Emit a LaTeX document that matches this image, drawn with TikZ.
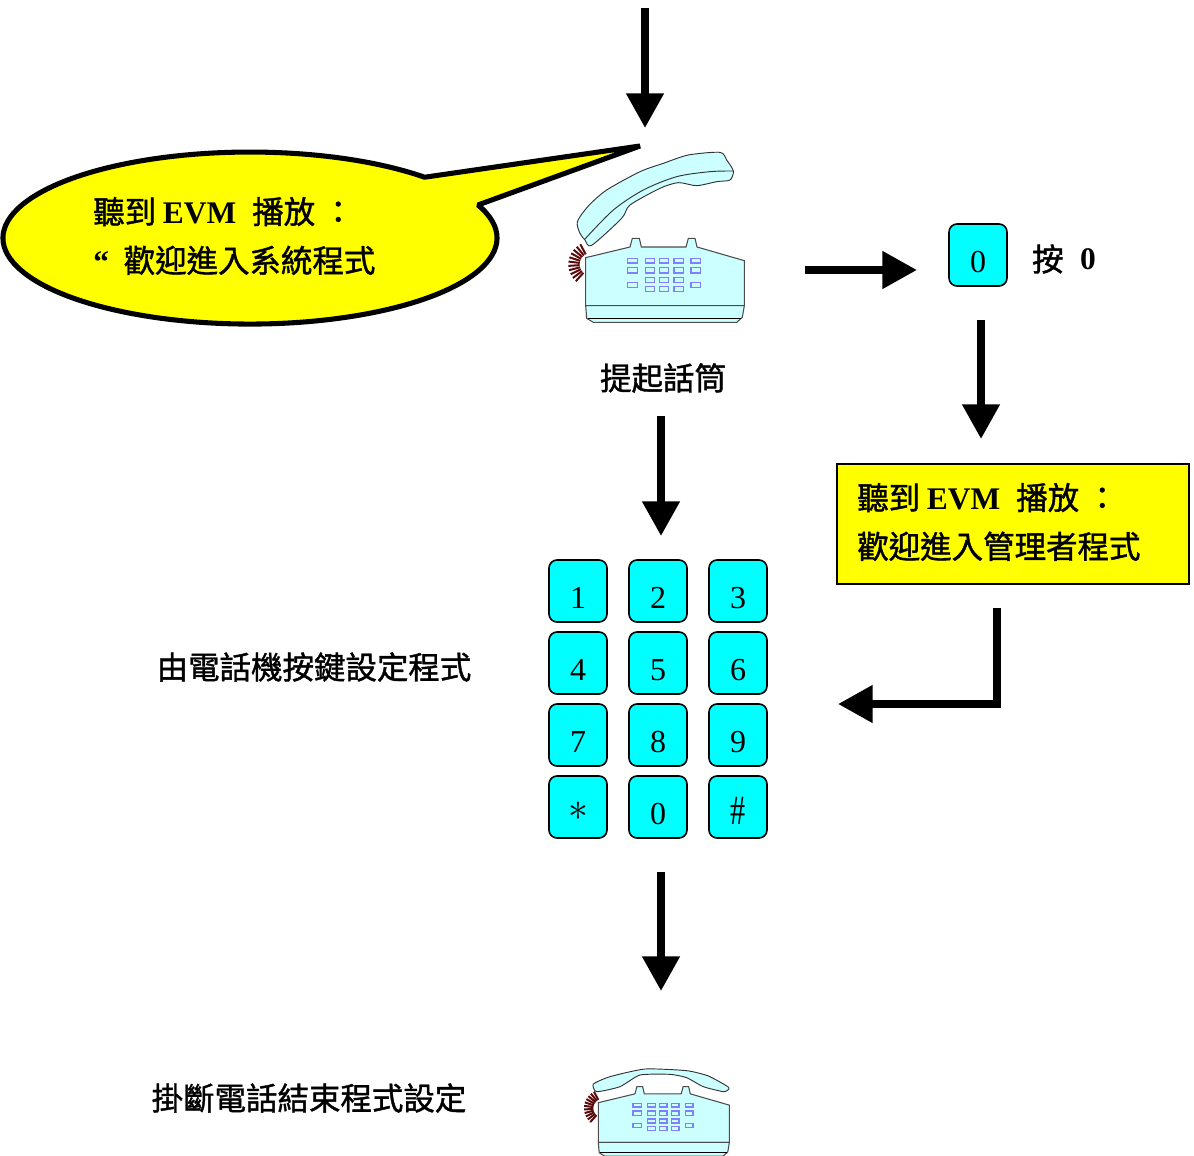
\documentclass[tikz,border=0pt]{standalone}
\usepackage{fontspec}
\setmainfont{Liberation Serif}
\newfontfamily\cjk[FakeBold=1.3]{Noto Sans CJK TC}
\usetikzlibrary{positioning,arrows.meta,shapes.geometric,calc}
\definecolor{keycyan}{RGB}{0,255,255}
\definecolor{phonecyan}{RGB}{204,255,255}
\definecolor{phonekey}{RGB}{128,128,255}
\definecolor{coilred}{RGB}{90,10,10}
\definecolor{notepaper}{RGB}{255,255,0}
\newcommand{\evmtext}{{\rmfamily\bfseries EVM}}
\newcommand{\heardtext}{聽到\hspace{5pt}\evmtext\hspace{12pt}播放\hspace{5.5pt}：}
\tikzset{
	phonebase/.pic={
		% coiled cord
		\foreach \a in {132,143,...,252}
			\draw[coilred, line width=1.5pt] ($(\a:34)+(16,20)$) -- ($(\a:68)+(16,20)$);
		% body
		\draw[fill=phonecyan, draw=black!70, line width=.8pt]
			(0,0) -- (133,-32) -- (140,-58) -- (161,-58) -- (167,-32) -- (301,-32) -- (308,-58) -- (328,-58) -- (334,-32) -- (476,9) -- (476,144) -- (0,144) -- cycle;
		\draw[fill=phonecyan, draw=black!70, line width=.8pt]
			(0,144) -- (3,182) -- (23,194) -- (453,194) -- (470,179) -- (476,144) -- cycle;
		\draw[black, line width=.7pt] (6,182) -- (466,182);
		% small keys
		\foreach \x/\w in {126/30,179/28,221/28,265/28,316/28} {
			\draw[phonekey, line width=.9pt] (\x,2) rectangle ++(\w,14);
			\draw[phonekey, line width=.9pt] (\x,30) rectangle ++(\w,16);
		}
		\foreach \x in {179,221,265} {
			\draw[phonekey, line width=.9pt] (\x,59) rectangle ++(28,15);
			\draw[phonekey, line width=.9pt] (\x,87) rectangle ++(28,15);
		}
		\draw[phonekey, line width=.9pt] (126,75) rectangle ++(30,15);
		\draw[phonekey, line width=.9pt] (316,75) rectangle ++(28,15);
	}
}

\begin{document}
\begin{tikzpicture}[
	x=.75pt, y=-.75pt,
	keybox/.style={rectangle, draw, line width=1.2pt, rounded corners=6pt, fill=keycyan, minimum width=43.5pt, minimum height=46.5pt, inner sep=0pt, text height=26pt, text depth=0pt, font=\fontsize{24}{24}\selectfont},
	cjklabel/.style={inner sep=0pt, font=\cjk\fontsize{23.6}{36.6}\selectfont},
	bigarrow/.style={-{Triangle[length=26pt,width=27pt]}, line width=5.8pt},
	bubble/.style={draw, line width=3.8pt, line join=bevel, fill=notepaper},
	handset/.style={fill=phonecyan, draw=black!80, line width=.7pt}
	]
	\useasboundingbox (0,0) rectangle (1194,1155);

	% Speech bubble
	\draw[bubble] (640,146) -- (478,205) arc[start angle=-22.6, end angle=315, x radius=247, y radius=86] -- cycle;
	\node[cjklabel, anchor=west, align=left] (bubbletext) at (93,236) {\heardtext\\{\rmfamily\bfseries “}\hspace{11pt}歡迎進入系統程式};

	% Picked up phone
	\begin{scope}[shift={(550,130)}, scale=1/3]
		\pic[transform shape] at (107,383) {phonebase};
		\draw[handset] plot[smooth cycle, tension=.45] coordinates {(82,275) (115,228) (170,180) (270,125) (340,100) (415,75) (510,67) (530,90) (550,123) (540,150) (500,155) (440,167) (385,158) (330,175) (240,225) (215,265) (125,346) (105,330) (90,310)};
		\draw[handset, fill=none] plot[smooth, tension=.5] coordinates {(105,327) (190,240) (280,180) (380,140) (480,125) (550,123)};
	\end{scope}
	\node[cjklabel] (pickup) at (663,378) {提起話筒};

	% Admin key
	\node[keybox] (adminkey) at (978,255) {0};
	\node[cjklabel, right=18pt of adminkey, yshift=-3pt] (presslabel) {按\hspace{12.5pt}\raisebox{1.5pt}{\rmfamily\bfseries 0}};

	% Admin box
	\node[rectangle, draw=black, line width=1.4pt, fill=notepaper, minimum width=264pt, minimum height=90pt] (adminbox) at (1013,524) {};
	\node[cjklabel, anchor=west, align=left] (admintext) at (857,522) {\heardtext\\歡迎進入管理者程式};

	% Keypad
	\node[keybox] (key1) at (578,591) {1};
	\node[keybox] (key2) at (658,591) {2};
	\node[keybox] (key3) at (738,591) {3};
	\node[keybox] (key4) at (578,663) {4};
	\node[keybox] (key5) at (658,663) {5};
	\node[keybox] (key6) at (738,663) {6};
	\node[keybox] (key7) at (578,735) {7};
	\node[keybox] (key8) at (658,735) {8};
	\node[keybox] (key9) at (738,735) {9};
	\node[keybox] (keystar) at (578,807) {\raisebox{3pt}{\scalebox{1.2}{$\ast$}}};
	\node[keybox] (keyzero) at (658,807) {0};
	\node[keybox] (keyhash) at (738,807) {\scalebox{.95}[1.3]{\#}};
	\node[cjklabel] (setlabel) at (314,667) {由電話機按鍵設定程式};

	% Hung up phone
	\begin{scope}[shift={(570,1055)}, scale=1/3]
		\pic[transform shape, scale=.826] at (85,143) {phonebase};
		\draw[handset] plot[smooth cycle, tension=.35] coordinates {(70,87) (120,65) (225,42) (350,47) (415,63) (476,97) (462,110) (400,95) (350,68) (300,58) (210,60) (150,95) (80,110)};
	\end{scope}
	\node[cjklabel] (hanglabel) at (309,1098) {掛斷電話結束程式設定};

	% Free ends of arrows
	\coordinate (starttop) at (645,8);
	\coordinate (endtop) at (645,128);
	\coordinate (startright) at (805,270);
	\coordinate (endright) at (917,270);
	\coordinate (startadmin) at (981,320);
	\coordinate (endadmin) at (981,439);
	\coordinate (startpad) at (661,416);
	\coordinate (endpad) at (661,536);
	\coordinate (starthang) at (661,872);
	\coordinate (endhang) at (661,991);
	\coordinate (startback) at (997,608);
	\coordinate (cornerback) at (997,704);
	\coordinate (endback) at (838,704);

	% Arrows
	\draw[bigarrow] (starttop) -- (endtop);
	\draw[bigarrow] (startright) -- (endright);
	\draw[bigarrow] (startadmin) -- (endadmin);
	\draw[bigarrow] (startpad) -- (endpad);
	\draw[bigarrow] (starthang) -- (endhang);
	\draw[bigarrow] (startback) -- (cornerback) -- (endback);
\end{tikzpicture}
\end{document}
